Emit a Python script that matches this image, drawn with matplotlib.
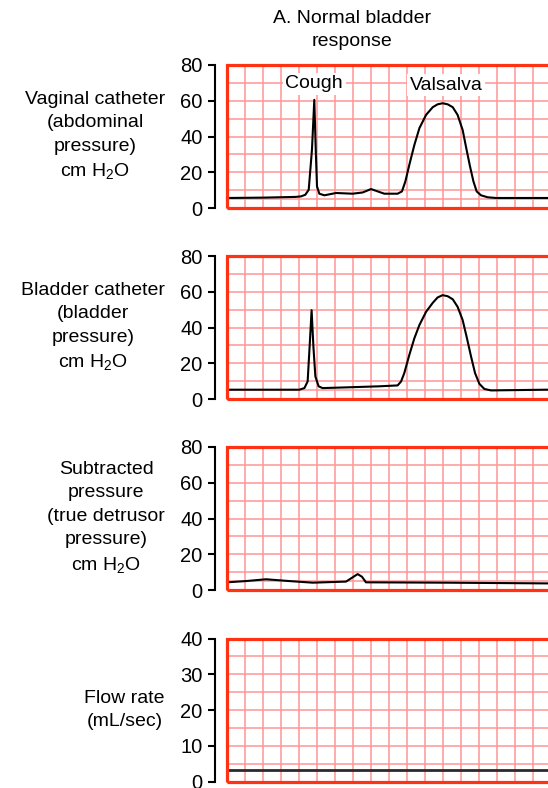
import numpy as np
import matplotlib
matplotlib.use("Agg")
import matplotlib.pyplot as plt
from matplotlib.patches import Rectangle

plt.rcParams['font.family'] = ['Liberation Sans', 'DejaVu Sans']
plt.rcParams['mathtext.fontset'] = 'custom'
plt.rcParams['mathtext.rm'] = 'Liberation Sans'

# --- data (x in grid squares, y in axis units) ---
abd_x = [0, 2.0, 3.8, 4.11, 4.35, 4.54, 4.72, 4.85, 4.93, 5.0, 5.13, 5.41, 6.06, 6.98, 7.54, 8.0, 8.37,
         8.74, 9.30, 9.48, 9.72, 9.91, 10.13, 10.41, 10.69, 11.06, 11.43, 11.70, 11.98, 12.26, 12.54,
         12.81, 13.09, 13.31, 13.50, 13.69, 13.87, 14.11, 14.48, 14.94, 17.72, 18.5]
abd_y = [5.6, 5.8, 6.2, 6.5, 7.4, 10.2, 32.6, 60.5, 32.6, 12.1, 8.0, 7.1, 8.4, 8.0, 8.7, 10.6, 9.3,
         8.0, 8.0, 8.0, 9.3, 14.9, 24.2, 35.3, 44.7, 52.1, 56.4, 58.0, 58.6, 58.0, 56.4,
         52.1, 43.7, 32.6, 23.3, 14.9, 9.3, 7.1, 6.0, 5.6, 5.6, 5.6]

bla_x = [0, 4.02, 4.30, 4.48, 4.61, 4.70, 4.80, 4.91, 5.09, 5.31, 6.61, 8.46, 9.48, 9.67, 9.85, 10.13,
         10.41, 10.69, 11.06, 11.43, 11.70, 11.98, 12.26, 12.54, 12.81, 13.09, 13.31, 13.56, 13.78,
         14.02, 14.30, 14.67, 17.72, 18.5]
bla_y = [5.2, 5.2, 6.1, 9.8, 33.0, 49.7, 29.3, 12.6, 7.1, 6.1, 6.5, 7.1, 7.6, 9.8, 14.5, 24.7,
         34.0, 41.4, 48.8, 53.8, 56.8, 58.1, 57.5, 55.8, 51.6, 44.2, 34.9, 23.7, 14.5,
         8.5, 5.6, 4.8, 5.2, 5.2]

det_x = [0, 1.06, 2.17, 3.46, 4.76, 6.61, 6.89, 7.26, 7.5, 7.72, 12.17, 17.72, 18.5]
det_y = [4.3, 5.0, 6.0, 5.0, 4.1, 4.7, 6.5, 8.9, 7.4, 4.3, 4.1, 3.7, 3.7]

flow_x = [0, 18.5]
flow_y = [3.1, 3.1]

labels = ["Vaginal catheter\n(abdominal\npressure)\ncm H$_\\mathregular{2}$O",
          "Bladder catheter\n(bladder\npressure)\ncm H$_\\mathregular{2}$O",
          "Subtracted\npressure\n(true detrusor\npressure)\ncm H$_\\mathregular{2}$O",
          "Flow rate\n(mL/sec)"]
ymaxes = [80, 80, 80, 40]
ysteps = [20, 20, 20, 10]

W, H = 548, 788
fig = plt.figure(figsize=(W / 100, H / 100), dpi=100)

tops = [65, 256, 447, 638.5]
ph = 143
left_px, right_px = 227, 560
border = '#ff3314'
gridc = '#ff9696'

series = [(abd_x, abd_y), (bla_x, bla_y), (det_x, det_y), (flow_x, flow_y)]

for i, (top, (xs, ys)) in enumerate(zip(tops, series)):
    ax = fig.add_axes([left_px / W, 1 - (top + ph) / H, (right_px - left_px) / W, ph / H])
    ymax = ymaxes[i]
    ax.set_xlim(0, 18.5)
    ax.set_ylim(0, ymax)

    for s in ['top', 'right', 'bottom']:
        ax.spines[s].set_visible(False)
    ax.spines['left'].set_position(('outward', 8.6))
    ax.spines['left'].set_linewidth(1.5)

    ax.set_yticks(np.arange(0, ymax + 1, ysteps[i]))
    ax.tick_params(axis='y', length=5, width=1.5, labelsize=14.5, pad=4)
    ax.set_xticks([])

    # grid
    for gx in range(1, 19):
        ax.axvline(gx, color=gridc, lw=1.1, zorder=1)
    hstep = ysteps[i] / 2
    hs = list(np.arange(hstep, ymax, hstep))
    if ymax == 80:
        hs.append(5)
    for gy in hs:
        ax.axhline(gy, color=gridc, lw=1.1, zorder=1)

    lw = 2.0 if i == 3 else 1.5
    col = '#2a2a2a' if i == 3 else 'black'
    ax.plot(xs, ys, color=col, lw=lw, zorder=3, clip_on=False)

    ax.add_patch(Rectangle((0, 0), 1, 1, transform=ax.transAxes, fill=False,
                           ec=border, lw=2.3, zorder=4, clip_on=False))

    fig.text(165 / W, 1 - (top + ph / 2) / H, labels[i], ha='right', va='center',
             multialignment='center', fontsize=14, linespacing=1.5)

    if i == 0:
        bb = dict(facecolor='white', edgecolor='none', pad=2)
        ax.text(4.85, 69.5, "Cough", ha='center', va='center', fontsize=14, bbox=bb, zorder=5)
        ax.text(12.17, 68.8, "Valsalva", ha='center', va='center', fontsize=14, bbox=bb, zorder=5)

fig.text(352 / W, 1 - 30 / H, "A. Normal bladder\nresponse", ha='center', va='center',
         fontsize=14, linespacing=1.5)

fig.savefig("out.png", dpi=100)
